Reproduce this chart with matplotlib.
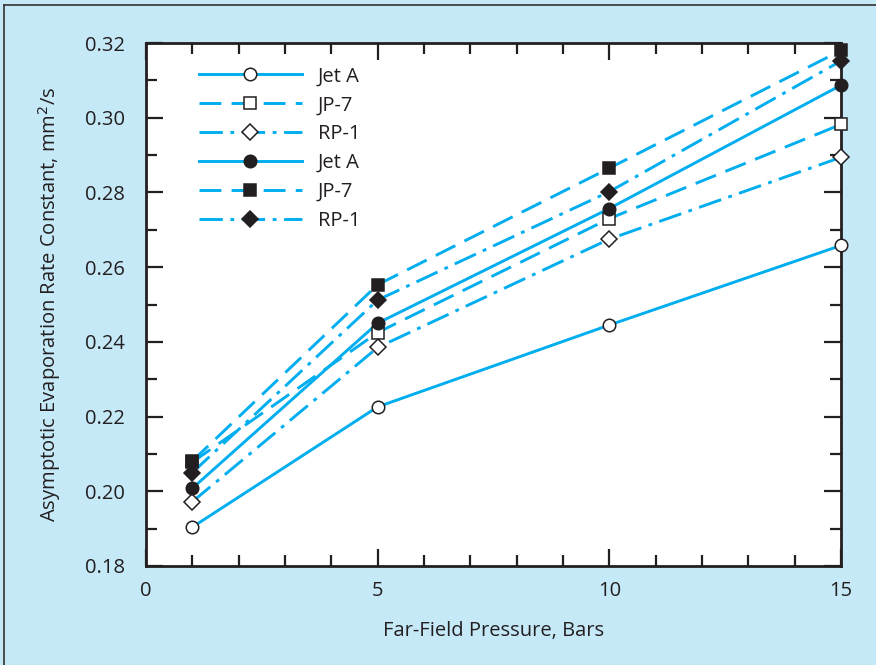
import matplotlib
matplotlib.use("Agg")
import matplotlib.pyplot as plt
from matplotlib.lines import Line2D
from matplotlib.ticker import MultipleLocator

plt.rcParams['font.family'] = ['Open Sans', 'DejaVu Sans']

# Data
pressure = [1, 5, 10, 15]
jeta_open = [0.1904, 0.2226, 0.2445, 0.2658]
jp7_open = [0.2078, 0.2425, 0.2730, 0.2982]
rp1_open = [0.1972, 0.2385, 0.2675, 0.2894]
jeta_filled = [0.2008, 0.2450, 0.2757, 0.3087]
jp7_filled = [0.2081, 0.2553, 0.2865, 0.3180]
rp1_filled = [0.2050, 0.2512, 0.2802, 0.3152]
labels = ["Jet A", "JP-7", "RP-1", "Jet A", "JP-7", "RP-1"]

line_color = '#00aeef'
bg_color = '#c6e9f8'
text_color = '#231f20'

fig = plt.figure(figsize=(8.76, 6.65), dpi=100, facecolor=bg_color)
ax = fig.add_axes([0.1667, 0.1489, 0.7933, 0.7864])
ax.set_facecolor('white')

dashed = (0, (7.5, 3.5))
dashdot = (0, (8, 2.6, 1.3, 2.6))

series = [
    (jeta_open, '-', 'o', 'white'),
    (jp7_open, dashed, 's', 'white'),
    (rp1_open, dashdot, 'D', 'white'),
    (jeta_filled, '-', 'o', text_color),
    (jp7_filled, dashed, 's', text_color),
    (rp1_filled, dashdot, 'D', text_color),
]

handles = []
for (vals, ls, mk, fc), lab in zip(series, labels):
    ms = 9 if mk != 'D' else 8
    ax.plot(pressure, vals, color=line_color, linestyle=ls, linewidth=2.1,
            zorder=2)
    ax.plot(pressure, vals, linestyle='none', marker=mk, markersize=ms,
            markerfacecolor=fc, markeredgecolor=text_color,
            markeredgewidth=1.1, clip_on=False, zorder=3)
    handles.append(Line2D([], [], color=line_color, linestyle=ls, linewidth=2.1,
                          marker=mk, markersize=ms, markerfacecolor=fc,
                          markeredgecolor=text_color, markeredgewidth=1.1))

leg = ax.legend(handles, labels, loc='upper left', bbox_to_anchor=(0.05, 0.99),
                frameon=False, handlelength=5.1, handletextpad=0.8,
                labelspacing=0.44, fontsize=14.5)
for t in leg.get_texts():
    t.set_color(text_color)

ax.set_xlim(0, 15)
ax.set_ylim(0.18, 0.32)
ax.xaxis.set_major_locator(MultipleLocator(5))
ax.xaxis.set_minor_locator(MultipleLocator(1))
ax.yaxis.set_major_locator(MultipleLocator(0.02))
ax.yaxis.set_minor_locator(MultipleLocator(0.01))
ax.yaxis.set_major_formatter(plt.FuncFormatter(lambda v, p: f"{v:.2f}"))

ax.tick_params(which='both', direction='in', top=True, right=True,
               color=text_color, width=1.6, labelsize=14.5,
               labelcolor=text_color)
ax.tick_params(axis='y', which='both', pad=15)
ax.tick_params(axis='x', which='both', pad=11)
ax.tick_params(which='major', length=12)
ax.tick_params(which='minor', length=8)

for sp in ax.spines.values():
    sp.set_linewidth(2)
    sp.set_color(text_color)

ax.set_xlabel("Far-Field Pressure, Bars", fontsize=14.5, color=text_color,
              labelpad=14)
ax.set_ylabel("Asymptotic Evaporation Rate Constant, mm$^2$/s", fontsize=14.5,
              color=text_color, labelpad=16)

# thin border on top and left of the figure
fig.add_artist(Line2D([0.005, 1], [0.992, 0.992], transform=fig.transFigure,
                      color='#333333', linewidth=1.2))
fig.add_artist(Line2D([0.005, 0.005], [0, 0.992], transform=fig.transFigure,
                      color='#333333', linewidth=1.2))

fig.savefig("out.png", dpi=100, facecolor=bg_color)
